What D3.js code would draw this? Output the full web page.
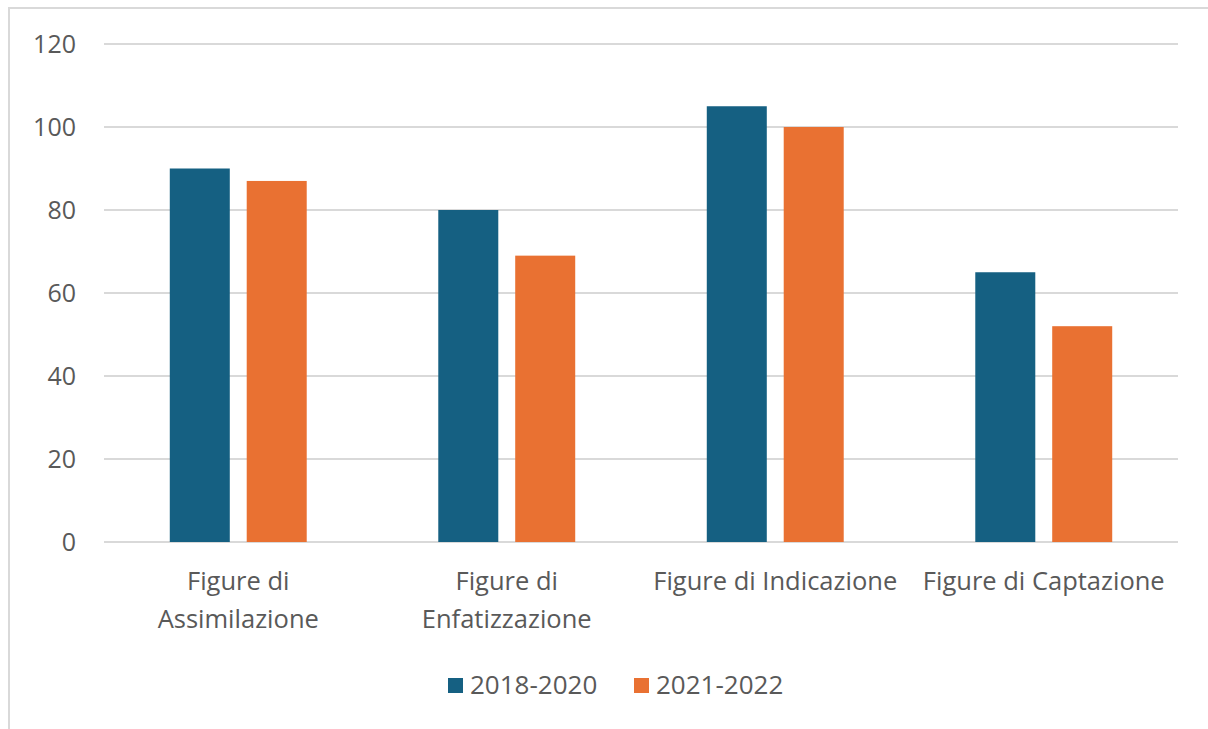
<!DOCTYPE html>
<html>
<head>
<meta charset="utf-8">
<script src="https://cdn.jsdelivr.net/npm/d3@7"></script>
<style>
  html, body { margin: 0; padding: 0; background: #fff; }
  svg { display: block; }
  text { font-family: "Open Sans", "Liberation Sans", Arial, sans-serif; fill: #595959; }
</style>
</head>
<body>
<svg id="chart" width="1208" height="729"></svg>
<script>
// Categories and series
const categories = [
  ["Figure di", "Assimilazione"],
  ["Figure di", "Enfatizzazione"],
  ["Figure di Indicazione"],
  ["Figure di Captazione"]
];
const seriesNames = ["2018-2020", "2021-2022"];
const values2018_2020 = [90, 80, 105, 65];
const values2021_2022 = [87, 69, 100, 52];
const yTicks = [0, 20, 40, 60, 80, 100, 120];
const colors = ["#156082", "#E97132"];

const W = 1208, H = 729;
const margin = { left: 104, right: 30, top: 44, bottom: 187 };
const svg = d3.select("#chart");

// Outer chart frame
svg.append("path")
  .attr("d", `M9,${H} L9,8 L${W},8`)
  .attr("fill", "none")
  .attr("stroke", "#d9d9d9")
  .attr("stroke-width", 2);

const x0 = d3.scaleBand()
  .domain(d3.range(categories.length))
  .range([margin.left, W - margin.right])
  .paddingInner(0.49)
  .paddingOuter(0.245);

const x1 = d3.scaleBand()
  .domain([0, 1])
  .range([0, x0.bandwidth()])
  .paddingInner(0.22);

const y = d3.scaleLinear()
  .domain([0, 120])
  .range([H - margin.bottom, margin.top]);

// Gridlines
svg.append("g")
  .selectAll("line")
  .data(yTicks)
  .join("line")
  .attr("x1", margin.left)
  .attr("x2", W - margin.right)
  .attr("y1", d => y(d))
  .attr("y2", d => y(d))
  .attr("stroke", "#d9d9d9")
  .attr("stroke-width", 2);

// Y axis labels
const yAxis = d3.axisLeft(y).tickValues(yTicks).tickSize(0).tickPadding(28);
const yg = svg.append("g")
  .attr("transform", `translate(${margin.left},0)`)
  .call(yAxis);
yg.select(".domain").remove();
yg.selectAll("text")
  .style("font-size", "25px")
  .attr("fill", "#595959");

// Bars
const rows = categories.map((c, i) => [values2018_2020[i], values2021_2022[i]]);
const groups = svg.append("g")
  .selectAll("g")
  .data(rows)
  .join("g")
  .attr("transform", (d, i) => `translate(${x0(i)},0)`);

groups.selectAll("rect")
  .data(d => d.map((v, k) => ({ v, k })))
  .join("rect")
  .attr("x", d => x1(d.k))
  .attr("width", x1.bandwidth())
  .attr("y", d => y(d.v))
  .attr("height", d => y(0) - y(d.v))
  .attr("fill", d => colors[d.k]);

// Category labels
const catG = svg.append("g");
categories.forEach((lines, i) => {
  const cx = x0(i) + x0.bandwidth() / 2;
  const t = catG.append("text")
    .attr("text-anchor", "middle")
    .style("font-size", "25.5px");
  lines.forEach((ln, j) => {
    t.append("tspan")
      .attr("x", cx)
      .attr("y", 590 + j * 38)
      .text(ln);
  });
});

// Legend
const legend = svg.append("g");
const legendItems = [
  { name: seriesNames[0], color: colors[0], x: 448 },
  { name: seriesNames[1], color: colors[1], x: 634 }
];
legendItems.forEach(it => {
  legend.append("rect")
    .attr("x", it.x).attr("y", 678)
    .attr("width", 15).attr("height", 15)
    .attr("fill", it.color);
  legend.append("text")
    .attr("x", it.x + 22).attr("y", 694)
    .style("font-size", "26px")
    .text(it.name);
});
</script>
</body>
</html>
